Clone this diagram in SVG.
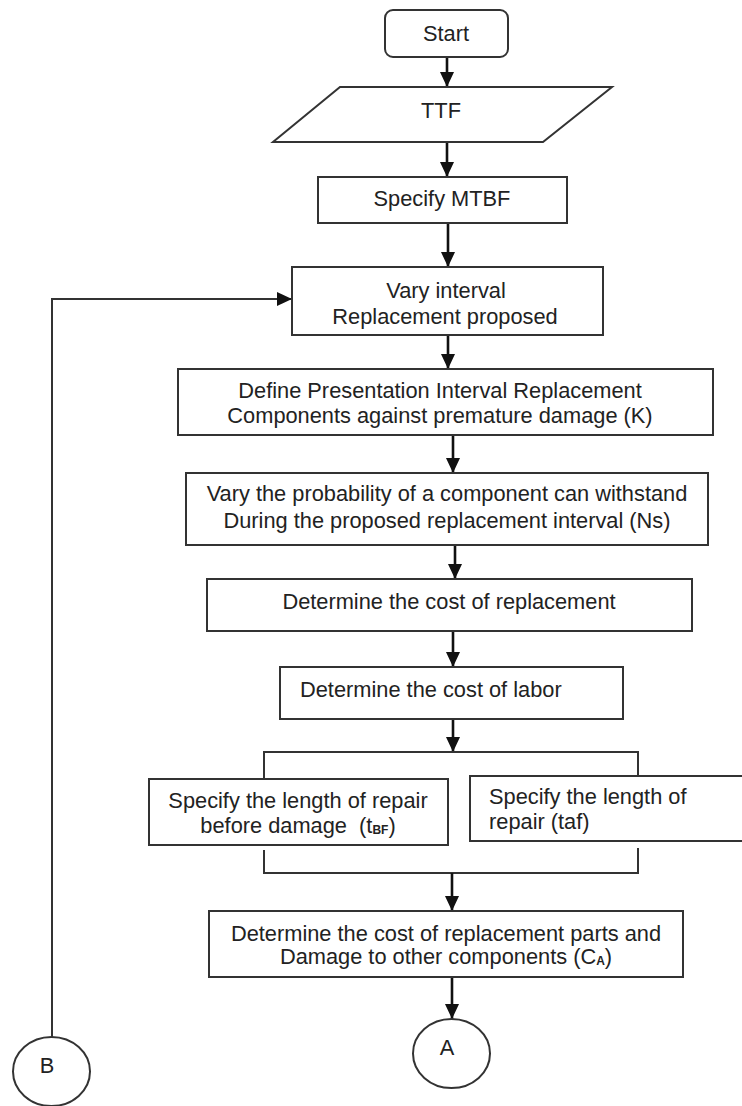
<svg xmlns="http://www.w3.org/2000/svg" width="742" height="1106" viewBox="0 0 742 1106">
<style>
.box{fill:#fff;stroke:#333;stroke-width:2}
.ln{fill:none;stroke:#111;stroke-width:2.6}
.br{fill:none;stroke:#333;stroke-width:2}
text{font-family:"Liberation Sans",Arial,sans-serif;font-size:21.8px;fill:#222}
.c{text-anchor:middle}
.sub{font-size:12px;font-weight:bold}
</style>
<defs>
<marker id="ah" markerUnits="userSpaceOnUse" viewBox="0 0 15 14" refX="15" refY="7" markerWidth="15" markerHeight="14" orient="auto">
<path d="M0,0 L15,7 L0,14 z" fill="#111"/>
</marker>
</defs>
<rect width="742" height="1106" fill="#fff"/>
<g id="connectors">
<line class="ln" x1="447" y1="57" x2="447" y2="87" marker-end="url(#ah)"/>
<line class="ln" x1="447" y1="142" x2="447" y2="177" marker-end="url(#ah)"/>
<line class="ln" x1="448" y1="223" x2="448" y2="267" marker-end="url(#ah)"/>
<line class="ln" x1="448" y1="335" x2="448" y2="369" marker-end="url(#ah)"/>
<line class="ln" x1="453" y1="435" x2="453" y2="473" marker-end="url(#ah)"/>
<line class="ln" x1="455" y1="545" x2="455" y2="579" marker-end="url(#ah)"/>
<line class="ln" x1="453" y1="631" x2="453" y2="667" marker-end="url(#ah)"/>
<line class="ln" x1="453" y1="719" x2="453" y2="752" marker-end="url(#ah)"/>
<polyline class="br" points="264,779 264,752 638,752 638,776"/>
<polyline class="br" points="264,850 264,873 638,873 638,848"/>
<line class="ln" x1="452" y1="873" x2="452" y2="911" marker-end="url(#ah)"/>
<line class="ln" x1="452" y1="977" x2="452" y2="1019" marker-end="url(#ah)"/>
<polyline class="br" points="52,1037 52,299 292,299" marker-end="url(#ah)"/>
</g>
<g id="start">
<rect class="box" x="385" y="10" width="123" height="47" rx="8"/>
<text class="c" x="446" y="41">Start</text>
</g>
<g id="ttf">
<polygon class="box" points="340,87 612,87 543,142 273,142"/>
<text class="c" x="441" y="118">TTF</text>
</g>
<g id="mtbf">
<rect class="box" x="318" y="177" width="249" height="46"/>
<text class="c" x="442" y="206">Specify MTBF</text>
</g>
<g id="vary-interval">
<rect class="box" x="292" y="267" width="311" height="68"/>
<text class="c" x="446" y="298">Vary interval</text>
<text class="c" x="445" y="324">Replacement proposed</text>
</g>
<g id="define">
<rect class="box" x="178" y="369" width="535" height="66"/>
<text class="c" x="440" y="398">Define Presentation Interval Replacement</text>
<text class="c" x="440" y="423">Components against premature damage (K)</text>
</g>
<g id="vary-prob">
<rect class="box" x="186" y="473" width="522" height="72"/>
<text class="c" x="447" y="501">Vary the probability of a component can withstand</text>
<text class="c" x="447" y="528">During the proposed replacement interval (Ns)</text>
</g>
<g id="cost-replacement">
<rect class="box" x="207" y="579" width="485" height="52"/>
<text class="c" x="449" y="609">Determine the cost of replacement</text>
</g>
<g id="cost-labor">
<rect class="box" x="280" y="667" width="343" height="52"/>
<text x="300" y="697">Determine the cost of labor</text>
</g>
<g id="tbf">
<rect class="box" x="149" y="779" width="299" height="66"/>
<text class="c" x="298" y="808">Specify the length of repair</text>
<text class="c" x="298" y="833" xml:space="preserve">before damage  (t<tspan class="sub" dy="1">BF</tspan><tspan dy="-1">)</tspan></text>
</g>
<g id="taf">
<rect class="box" x="470" y="776" width="290" height="65"/>
<text x="489" y="804">Specify the length of</text>
<text x="489" y="829">repair (taf)</text>
</g>
<g id="cost-parts">
<rect class="box" x="209" y="911" width="474" height="66"/>
<text class="c" x="446" y="941">Determine the cost of replacement parts and</text>
<text class="c" x="446" y="964">Damage to other components (C<tspan class="sub" dy="1">A</tspan><tspan dy="-1">)</tspan></text>
</g>
<g id="conn-a">
<ellipse class="box" cx="451.5" cy="1053.5" rx="38.5" ry="34.5"/>
<text class="c" x="447" y="1055">A</text>
</g>
<g id="conn-b">
<ellipse class="box" cx="51.5" cy="1071.5" rx="38.5" ry="34.5"/>
<text class="c" x="47" y="1073">B</text>
</g>
</svg>
